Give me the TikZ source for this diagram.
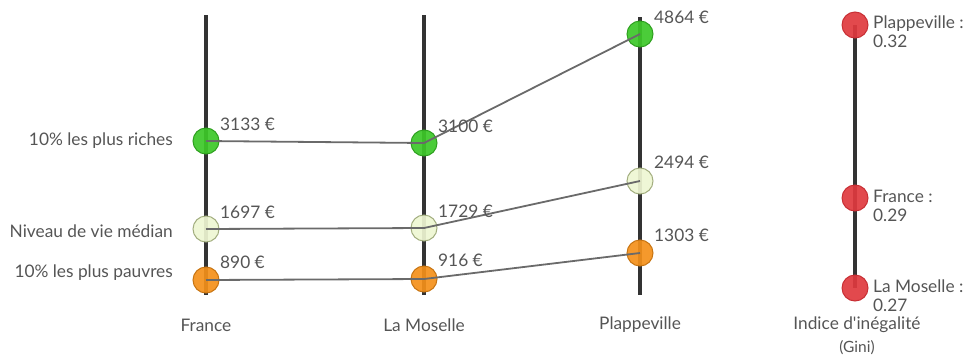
\documentclass[tikz,border=0pt]{standalone}
\usepackage{fontspec}
\setmainfont{Lato}
\usetikzlibrary{positioning}
\definecolor{txt}{HTML}{555555}
\definecolor{axis}{HTML}{333333}
\definecolor{link}{HTML}{6A6A6A}
\definecolor{rich}{HTML}{3CC828}
\definecolor{richb}{HTML}{2FA020}
\definecolor{med}{HTML}{EEF6D2}
\definecolor{medb}{HTML}{A3AE80}
\definecolor{poor}{HTML}{F4901A}
\definecolor{poorb}{HTML}{C87512}
\definecolor{gini}{HTML}{E0393E}
\definecolor{ginib}{HTML}{C83035}
\begin{document}
\begin{tikzpicture}[x=1pt,y=-1pt,
    font=\fontsize{17.3}{19}\selectfont, text=txt,
    axe/.style={draw=axis,line width=4pt},
    dot/.style={circle,minimum size=26pt,inner sep=0pt,line width=1pt,fill opacity=0.92},
    lien/.style={draw=link,line width=1.8pt},
    val/.style={anchor=west,inner sep=0pt},
    cat/.style={anchor=east,inner sep=0pt}]
\useasboundingbox (0,0) rectangle (969,362);
% axes
\coordinate (fr-top) at (206,15);
\coordinate (fr-bot) at (206,295);
\coordinate (mo-top) at (424,15);
\coordinate (mo-bot) at (424,295);
\coordinate (pl-top) at (640,17);
\coordinate (pl-bot) at (640,295);
\draw[axe] (fr-top) -- (fr-bot);
\draw[axe] (mo-top) -- (mo-bot);
\draw[axe] (pl-top) -- (pl-bot);
% points
\node[dot,fill=rich,draw=richb] (fr-rich) at (206,141) {};
\node[dot,fill=med,draw=medb] (fr-med) at (206,229) {};
\node[dot,fill=poor,draw=poorb] (fr-poor) at (206,280) {};
\node[dot,fill=rich,draw=richb] (mo-rich) at (424,143) {};
\node[dot,fill=med,draw=medb] (mo-med) at (424,228) {};
\node[dot,fill=poor,draw=poorb] (mo-poor) at (424,279) {};
\node[dot,fill=rich,draw=richb] (pl-rich) at (640,34) {};
\node[dot,fill=med,draw=medb] (pl-med) at (640,181) {};
\node[dot,fill=poor,draw=poorb] (pl-poor) at (640,253) {};
% liens
\draw[lien] (fr-rich.center) -- (mo-rich.center) -- (pl-rich.center);
\draw[lien] (fr-med.center) -- (mo-med.center) -- (pl-med.center);
\draw[lien] (fr-poor.center) -- (mo-poor.center) -- (pl-poor.center);
% valeurs
\node[val] (fr-rich-v) at (220,124) {3133 €};
\node[val] (fr-med-v) at (220,212) {1697 €};
\node[val] (fr-poor-v) at (220,262) {890 €};
\node[val] (mo-rich-v) at (438,126) {3100 €};
\node[val] (mo-med-v) at (438,211) {1729 €};
\node[val] (mo-poor-v) at (438,260) {916 €};
\node[val] (pl-rich-v) at (654,17) {4864 €};
\node[val] (pl-med-v) at (654,162) {2494 €};
\node[val] (pl-poor-v) at (654,235) {1303 €};
% categories
\node[cat] (c-rich) at (173,141) {10\% les plus riches};
\node[cat] (c-med) at (173,231) {Niveau de vie médian};
\node[cat] (c-poor) at (173,273) {10\% les plus pauvres};
% noms
\node (n-fr) at (206,325) {France};
\node (n-mo) at (424,325) {La Moselle};
\node (n-pl) at (640,325) {Plappeville};
% Gini
\coordinate (g-top) at (855,25);
\coordinate (g-bot) at (855,288);
\draw[axe] (g-top) -- (g-bot);
\node[dot,fill=gini,draw=ginib] (g-pl) at (g-top) {};
\node[dot,fill=gini,draw=ginib] (g-fr) at (855,198) {};
\node[dot,fill=gini,draw=ginib] (g-mo) at (g-bot) {};
\node[val,anchor=north west,align=left] (g-pl-v) at (873,16) {Plappeville :\\0.32};
\node[val,anchor=north west,align=left] (g-fr-v) at (873,190) {France :\\0.29};
\node[val,anchor=north west,align=left] (g-mo-v) at (873,280) {La Moselle :\\0.27};
\node (n-gini) at (857,325) {Indice d\textquotesingle inégalité};
\node[font=\fontsize{15.5}{17}\selectfont] (n-gini2) at (857,348) {(Gini)};
\end{tikzpicture}
\end{document}
